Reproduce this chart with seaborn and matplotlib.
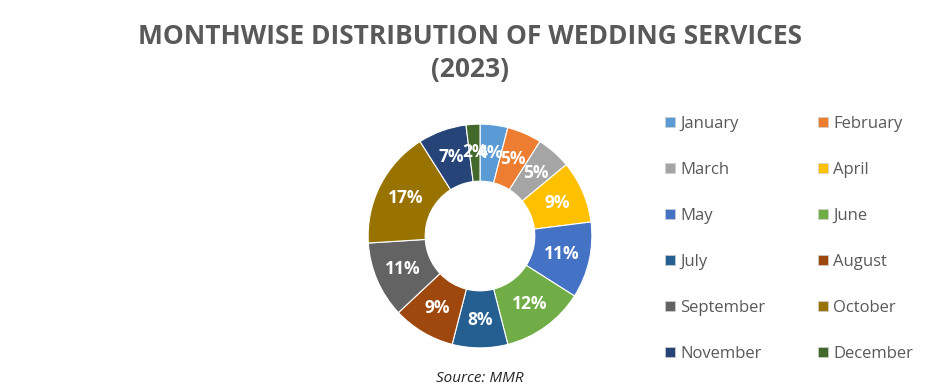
import matplotlib
matplotlib.use("Agg")
import matplotlib.pyplot as plt
import seaborn as sns
from matplotlib.patches import Patch

months = ["January", "February", "March", "April", "May", "June",
          "July", "August", "September", "October", "November", "December"]
shares = [4, 5, 5, 9, 11, 12, 8, 9, 11, 17, 7, 2]
colors = ["#5B9BD5", "#ED7D31", "#A5A5A5", "#FFC000", "#4472C4", "#70AD47",
          "#255E91", "#9E480E", "#636363", "#997300", "#264478", "#43682B"]

sns.set_theme(style="white")
plt.rcParams["font.family"] = ["Open Sans", "DejaVu Sans"]
palette = sns.color_palette(colors)

fig = plt.figure(figsize=(9.4, 3.9), dpi=100)
fig.patch.set_facecolor("white")

fig.text(0.5, 1 - 53 / 390, "MONTHWISE DISTRIBUTION OF WEDDING SERVICES\n(2023)",
         ha="center", va="center", fontsize=19, fontweight="bold",
         color="#595959", linespacing=1.3)

ax = fig.add_axes([367 / 940, 41 / 390, 226 / 940, 226 / 390])
wedges, texts, autotexts = ax.pie(
    shares, colors=palette, startangle=90, counterclock=False,
    autopct="%d%%", pctdistance=0.75,
    wedgeprops=dict(width=0.51, edgecolor="white", linewidth=0.8),
    textprops=dict(color="white", fontsize=12.5, fontweight="bold"))
ax.set_xlim(-1.01, 1.01)
ax.set_ylim(-1.01, 1.01)
ax.set_aspect("equal")

# matplotlib fills legend columns first; reorder so months run across rows
order = list(range(0, 12, 2)) + list(range(1, 12, 2))
handles = [Patch(facecolor=palette[i], edgecolor="#d0d0d0", linewidth=0.5) for i in order]
labels = [months[i] for i in order]
fig.legend(handles, labels, loc="upper left", bbox_to_anchor=(650 / 940, 1 - 101 / 390),
           ncol=2, frameon=False, fontsize=12, labelcolor="#595959",
           handlelength=0.6, handleheight=0.6, handletextpad=0.3,
           labelspacing=1.8, columnspacing=3.2)

fig.text(480 / 940, 1 - 378 / 390, "Source: MMR", ha="center", va="center",
         fontsize=11, fontstyle="italic", color="#262626")

fig.savefig("out.png", dpi=100, facecolor="white")
